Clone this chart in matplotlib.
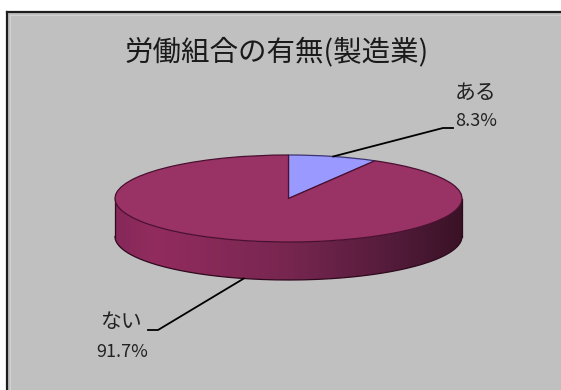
import numpy as np
import matplotlib
matplotlib.use("Agg")
import matplotlib.pyplot as plt
from matplotlib.patches import Polygon, Rectangle
from matplotlib.colors import LinearSegmentedColormap

plt.rcParams['font.family'] = ['Noto Sans CJK JP', 'DejaVu Sans']

# データ
title = "労働組合の有無(製造業)"
labels = ["ある", "ない"]
values = [8.3, 91.7]
colors = ["#9999ff", "#993366"]
edge_colors = ["#3c3470", "#4a1030"]

W, H = 561, 390
# 楕円の位置(ピクセル)
cx, cy = 288.5, 198.5
rx, ry = 173.5, 43.5
depth_px = 38

x_lo, x_hi = (0 - cx) / rx, (W - cx) / rx
y_lo, y_hi = (cy - H) / ry, cy / ry
d = depth_px / ry


def px(x, y):
    # 画面ピクセル(左上原点) -> データ座標
    return (x - cx) / rx, (cy - y) / ry


fig = plt.figure(figsize=(W / 100, H / 100), dpi=100)
fig.patch.set_facecolor("white")

# グラフエリアの背景と枠
fig.patches.append(Rectangle((7 / W, 0), 1 - 7 / W, 1 - 12 / H,
                             transform=fig.transFigure, facecolor="#c0c0c0",
                             edgecolor="none", zorder=0))
fig.lines.append(plt.Line2D([7 / W, 1], [1 - 12 / H, 1 - 12 / H],
                            transform=fig.transFigure, color="#1e1e1e", lw=1.6))
fig.lines.append(plt.Line2D([7 / W, 7 / W], [0, 1 - 12 / H],
                            transform=fig.transFigure, color="#1e1e1e", lw=1.6))
fig.lines.append(plt.Line2D([10 / W, 1], [1 - 15 / H, 1 - 15 / H],
                            transform=fig.transFigure, color="#d2d2d2", lw=0.8))
fig.lines.append(plt.Line2D([10 / W, 10 / W], [0, 1 - 15 / H],
                            transform=fig.transFigure, color="#d2d2d2", lw=0.8))

ax = fig.add_axes([0, 0, 1, 1])
ax.set_zorder(5)
ax.patch.set_alpha(0)

wedges, _ = ax.pie(values, colors=colors, startangle=90, counterclock=False,
                   radius=1, center=(0, 0), frame=True,
                   wedgeprops=dict(linewidth=0.9))
for w, ec in zip(wedges, edge_colors):
    w.set_edgecolor(ec)
    w.set_zorder(3)

# 側面(グラデーション)
side_cmap = LinearSegmentedColormap.from_list(
    "side", [(0, "#86285a"), (0.12, "#922c5e"), (0.5, "#772650"),
             (0.78, "#561c3c"), (1, "#3a1226")])
grad = np.linspace(0, 1, 256).reshape(1, -1)
angles = np.cumsum([0] + values) / sum(values) * 360
for i in range(len(values)):
    a0 = 90 - angles[i + 1]
    a1 = 90 - angles[i]
    # 手前側(180°〜360°)だけ見える
    for off in (0, -360, 360):
        lo = max(a0 + off, 180)
        hi = min(a1 + off, 360)
        if hi <= lo:
            continue
        phi = np.radians(np.linspace(lo, hi, 200))
        xs, ys = np.cos(phi), np.sin(phi)
        verts = np.concatenate([np.column_stack([xs, ys]),
                                np.column_stack([xs[::-1], ys[::-1] - d])])
        side = Polygon(verts, closed=True, facecolor="none", edgecolor="none")
        ax.add_patch(side)
        im = ax.imshow(grad, cmap=side_cmap, extent=(-1, 1, -1 - d, 0),
                       aspect='auto', zorder=1, interpolation='bilinear')
        im.set_clip_path(side)

phi = np.radians(np.linspace(180, 360, 200))
ax.plot(np.cos(phi), np.sin(phi) - d, color="#2e0a1e", lw=0.9, zorder=2)
ax.plot([-1, -1], [0, -d], color="#2e0a1e", lw=0.9, zorder=2)
ax.plot([1, 1], [0, -d], color="#2e0a1e", lw=0.9, zorder=2)

ax.set_aspect('auto')
ax.set_xlim(x_lo, x_hi)
ax.set_ylim(y_lo, y_hi)
ax.axis('off')

# タイトル
tx, ty = px(277, 52)
ax.text(tx, ty, title, fontsize=20.5, ha="center", va="center", color="#1a1a1a")

# ラベルと引き出し線
label_pos = [((443, 128), (453, 128), (476, 93), (476, 121)),
             ((158, 330), (148, 330), (121, 322), (122, 352))]
for i in range(len(values)):
    mid = 90 - (angles[i] + angles[i + 1]) / 2
    ax_, ay_ = np.cos(np.radians(mid)), np.sin(np.radians(mid))
    if ay_ < 0:
        ay_ -= d
    elbow, end, name_xy, pct_xy = label_pos[i]
    ex, ey = px(*elbow)
    fx, fy = px(*end)
    ax.plot([ax_, ex, fx], [ay_, ey, fy], color="black", lw=1.3, zorder=4)
    nx, ny = px(*name_xy)
    ax.text(nx, ny, labels[i], fontsize=15, ha="center", va="center",
            color="#222222")
    qx, qy = px(*pct_xy)
    ax.text(qx, qy, f"{values[i]:.1f}%", fontsize=13, ha="center",
            va="center", color="#222222")

fig.savefig("out.png", dpi=100)
